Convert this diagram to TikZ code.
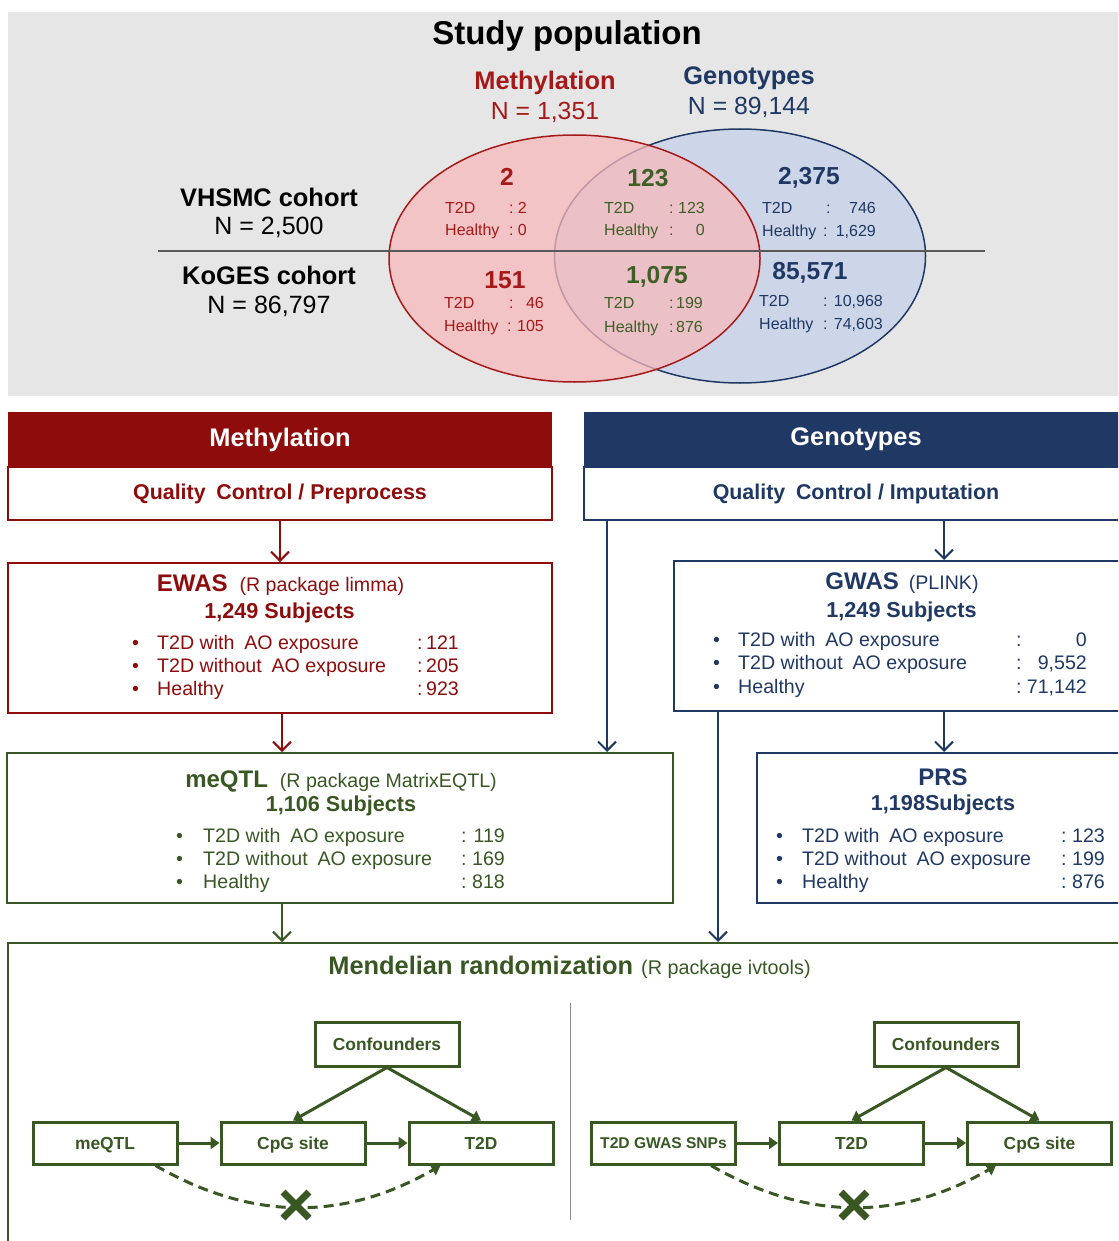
\documentclass[tikz,border=0pt]{standalone}
\usepackage{fontspec}
\setmainfont{Liberation Sans}
\usetikzlibrary{arrows.meta,positioning,calc}

\definecolor{mred}{RGB}{142,12,12}
\definecolor{vred}{RGB}{165,25,25}
\definecolor{mnavy}{RGB}{31,56,100}
\definecolor{mgreen}{RGB}{56,87,35}
\definecolor{vgreen}{RGB}{62,96,38}
\definecolor{bggray}{RGB}{231,230,230}
\definecolor{pinkfill}{RGB}{246,185,187}
\definecolor{bluefill}{RGB}{205,214,232}

\newcommand{\setfs}[1]{\fontsize{#1}{#1}\selectfont}

\tikzset{
  hdrbox/.style={text=white, font=\setfs{25.4}\bfseries, minimum width=544pt, minimum height=55pt, inner sep=0pt},
  qcbox/.style={draw, fill=white, line width=2pt, font=\setfs{21.4}\bfseries, minimum width=544pt, minimum height=53pt, inner sep=0pt},
  stagebox/.style={draw, line width=2pt, inner sep=0pt},
  flow/.style={line width=2pt, -{Straight Barb[length=9pt,width=18pt]}},
  vbig/.style={inner sep=0pt, font=\setfs{24.6}\bfseries},
  vsmall/.style={inner sep=0pt, font=\setfs{16}, text height=11.5pt, text depth=0pt},
  rowtxt/.style={inner sep=0pt, anchor=west, font=\setfs{19.6}, text height=14pt, text depth=0pt},
  subj/.style={inner sep=0pt, font=\setfs{21.6}\bfseries},
  dagbox/.style={draw=mgreen, line width=3pt, text=mgreen, font=\setfs{17.4}\bfseries, minimum width=144pt, minimum height=42pt, inner sep=0pt, text height=12.5pt, text depth=0pt},
  dagarrow/.style={draw=mgreen, line width=3pt, -{Triangle[length=9pt,width=12pt]}},
  nolink/.style={dagarrow, dash pattern=on 10pt off 6pt, bend right=30},
}

\begin{document}
\begin{tikzpicture}[x=1pt,y=-1pt]
    \useasboundingbox (0,0) rectangle (1118,1241);
    \clip (0,0) rectangle (1118,1241);

    % study population
    \fill[bggray] (8,12) rectangle (1122,396);
    \node[inner sep=0pt, font=\setfs{33}\bfseries] (title) at (567,36) {Study population};
    \fill[bluefill] (740,256) ellipse [x radius=185.5, y radius=127];
    \draw[mnavy, line width=1.5pt] (740,256) ellipse [x radius=185.5, y radius=127];
    \filldraw[fill=pinkfill, fill opacity=0.75, draw=vred, line width=1.5pt] (574.5,258.5) ellipse [x radius=185.5, y radius=123.5];
    \draw[black!65, line width=1.5pt] (158,251) -- (985,251);

    \node[inner sep=0pt, text=vred, font=\setfs{25.4}\bfseries] (setM) at (545,83) {Methylation};
    \node[inner sep=0pt, text=vred, font=\setfs{24.8}] (setMn) at (545,112) {N = 1,351};
    \node[inner sep=0pt, text=mnavy, font=\setfs{25.4}\bfseries] (setG) at (749,78) {Genotypes};
    \node[inner sep=0pt, text=mnavy, font=\setfs{24.8}] (setGn) at (749,107) {N = 89,144};

    \node[inner sep=0pt, font=\setfs{25.4}\bfseries] (vhs) at (269,197) {VHSMC cohort};
    \node[inner sep=0pt, font=\setfs{25}] (vhsn) at (269,227) {N = 2,500};
    \node[inner sep=0pt, font=\setfs{25.4}\bfseries] (kog) at (269,275) {KoGES cohort};
    \node[inner sep=0pt, font=\setfs{25}] (kogn) at (269,306) {N = 86,797};

    \node[vbig, text=vred] (na) at (507,177) {2};
    \node[vbig, text=vgreen] (nb) at (648,178) {123};
    \node[vbig, text=mnavy] (nc) at (809,178) {2,375};
    \node[vbig, text=vred] (nd) at (505,280) {151};
    \node[vbig, text=vgreen] (ne) at (657,277) {1,075};
    \node[vbig, text=mnavy] (nf) at (810,273) {85,571};

    \foreach \nm/\col/\xl/\xc/\xr/\y/\lab/\val in {
      a1/vred/445/509/527/208/T2D/2, a2/vred/445/509/527/230/Healthy/0,
      b1/vgreen/604/669/705/208/T2D/123, b2/vgreen/604/669/705/230/Healthy/0,
      c1/mnavy/762/826/876/208/T2D/746, c2/mnavy/762/823/876/231/Healthy/{1,629},
      d1/vred/444/509/544/303/T2D/46, d2/vred/444/507/544/326/Healthy/105,
      e1/vgreen/604/669/703/303/T2D/199, e2/vgreen/604/669/703/327/Healthy/876,
      f1/mnavy/759/823/883/301/T2D/{10,968}, f2/mnavy/759/823/883/324/Healthy/{74,603}}{
      \node[vsmall, anchor=west, text=\col] (\nm-lab) at (\xl,\y) {\lab};
      \node[vsmall, anchor=west, text=\col] (\nm-col) at (\xc,\y) {:};
      \node[vsmall, anchor=east, text=\col] (\nm-val) at (\xr,\y) {\val};
    }

    % two branches
    \node[hdrbox, fill=mred] (hdrM) at (280,439.5) {Methylation};
    \node[qcbox, draw=mred, text=mred] (qcM) at (280,493.5) {Quality\enspace Control / Preprocess};
    \node[hdrbox, fill=mnavy] (hdrG) at (856,439.5) {Genotypes};
    \node[qcbox, draw=mnavy, text=mnavy] (qcG) at (856,493.5) {Quality\enspace Control / Imputation};

    \node[stagebox, draw=mred, minimum width=544pt, minimum height=150pt] (ewas) at (280,638) {};
    \node[stagebox, draw=mnavy, minimum width=456pt, minimum height=150pt] (gwas) at (902,636) {};
    \node[stagebox, draw=mgreen, minimum width=666pt, minimum height=150pt] (meqtl) at (340,828) {};
    \node[stagebox, draw=mnavy, minimum width=373pt, minimum height=150pt] (prs) at (943.5,828) {};
    \node[stagebox, draw=mgreen, minimum width=1122pt, minimum height=310pt] (mr) at (569,1098) {};

    \node[inner sep=0pt, text=mred] (ewas-t) at (280.5,585) {{\setfs{24}\bfseries EWAS}\hspace{12pt}{\setfs{19.6}(R package limma)}};
    \node[subj, text=mred] (ewas-s) at (279.5,613) {1,249 Subjects};
    \node[inner sep=0pt, text=mnavy] (gwas-t) at (902,583) {{\setfs{24}\bfseries GWAS}\hspace{10pt}{\setfs{19.6}(PLINK)}};
    \node[subj, text=mnavy] (gwas-s) at (901.5,612) {1,249 Subjects};
    \node[inner sep=0pt, text=mgreen] (meqtl-t) at (341,781) {{\setfs{24}\bfseries meQTL}\hspace{12pt}{\setfs{19.6}(R package MatrixEQTL)}};
    \node[subj, text=mgreen] (meqtl-s) at (341,806) {1,106 Subjects};
    \node[inner sep=0pt, text=mnavy, font=\setfs{24}\bfseries] (prs-t) at (943,777) {PRS};
    \node[subj, text=mnavy] (prs-s) at (943,805) {1,198Subjects};

    \foreach \lab/\val [count=\i] in {T2D with\enspace AO exposure/121, T2D without\enspace AO exposure/205, Healthy/923}{
      \pgfmathsetmacro{\yy}{642+23*(\i-1)}
      \node[rowtxt, text=mred] (ewas-d\i) at (132,\yy) {\textbullet};
      \node[rowtxt, text=mred] (ewas-l\i) at (157,\yy) {\lab};
      \node[rowtxt, text=mred] (ewas-c\i) at (417,\yy) {:};
      \node[rowtxt, anchor=east, text=mred] (ewas-v\i) at (459,\yy) {\val};
    }
    \foreach \lab/\val [count=\i] in {T2D with\enspace AO exposure/0, T2D without\enspace AO exposure/{9,552}, Healthy/{71,142}}{
      \pgfmathsetmacro{\yy}{639+23.5*(\i-1)}
      \node[rowtxt, text=mnavy] (gwas-d\i) at (713,\yy) {\textbullet};
      \node[rowtxt, text=mnavy] (gwas-l\i) at (738,\yy) {\lab};
      \node[rowtxt, text=mnavy] (gwas-c\i) at (1016,\yy) {:};
      \node[rowtxt, anchor=east, text=mnavy] (gwas-v\i) at (1087,\yy) {\val};
    }
    \foreach \lab/\val [count=\i] in {T2D with\enspace AO exposure/119, T2D without\enspace AO exposure/169, Healthy/818}{
      \pgfmathsetmacro{\yy}{835+23*(\i-1)}
      \node[rowtxt, text=mgreen] (meqtl-d\i) at (176,\yy) {\textbullet};
      \node[rowtxt, text=mgreen] (meqtl-l\i) at (203,\yy) {\lab};
      \node[rowtxt, text=mgreen] (meqtl-c\i) at (461,\yy) {:};
      \node[rowtxt, anchor=east, text=mgreen] (meqtl-v\i) at (505,\yy) {\val};
    }
    \foreach \lab/\val [count=\i] in {T2D with\enspace AO exposure/123, T2D without\enspace AO exposure/199, Healthy/876}{
      \pgfmathsetmacro{\yy}{835+23*(\i-1)}
      \node[rowtxt, text=mnavy] (prs-d\i) at (776,\yy) {\textbullet};
      \node[rowtxt, text=mnavy] (prs-l\i) at (802,\yy) {\lab};
      \node[rowtxt, text=mnavy] (prs-c\i) at (1061,\yy) {:};
      \node[rowtxt, anchor=east, text=mnavy] (prs-v\i) at (1105,\yy) {\val};
    }

    % connectors
    \coordinate (tapL) at (282,0);
    \coordinate (tapM) at (607,0);
    \coordinate (tapR) at (718,0);
    \coordinate (tapG) at (944,0);
    \draw[flow, mred] (qcM) -- (ewas);
    \draw[flow, mred] (ewas.south -| tapL) -- (meqtl.north -| tapL);
    \draw[flow, mgreen] (meqtl.south -| tapL) -- (mr.north -| tapL);
    \draw[flow, mnavy] (qcG.south -| tapM) -- (meqtl.north -| tapM);
    \draw[flow, mnavy] (qcG.south -| tapG) -- (gwas.north -| tapG);
    \draw[flow, mnavy] (gwas.south -| tapG) -- (prs.north -| tapG);
    \draw[flow, mnavy] (gwas.south -| tapR) -- (mr.north -| tapR);

    % Mendelian randomization
    \node[inner sep=0pt, text=mgreen] (mr-t) at (569.5,967) {{\setfs{25.4}\bfseries Mendelian randomization}\hspace{8pt}{\setfs{19.8}(R package ivtools)}};
    \draw[black!45, line width=1pt] (570,1003) -- (570,1220);

    \node[dagbox, minimum height=44pt] (conL) at (387,1044) {Confounders};
    \node[dagbox] (meqL) at (105,1143) {meQTL};
    \node[dagbox, right=41pt of meqL] (cpgL) {CpG site};
    \node[dagbox, right=41pt of cpgL] (t2dL) {T2D};
    \draw[dagarrow] (meqL) -- (cpgL);
    \draw[dagarrow] (cpgL) -- (t2dL);
    \draw[dagarrow] (conL.south) -- (cpgL.north);
    \draw[dagarrow] (conL.south) -- (t2dL.north);
    \draw[nolink] ([xshift=-23pt]meqL.south east) to ([xshift=33pt]t2dL.south west);
    \coordinate (xL) at (296,1205);
    \draw[mgreen, line width=7pt] ($(xL)+(-13,-13)$) -- ($(xL)+(13,13)$);
    \draw[mgreen, line width=7pt] ($(xL)+(-13,13)$) -- ($(xL)+(13,-13)$);

    \node[dagbox, minimum height=44pt] (conR) at (946,1044) {Confounders};
    \node[dagbox, font=\setfs{15.6}\bfseries, text height=11.2pt] (snpR) at (663.5,1143) {T2D GWAS SNPs};
    \node[dagbox, right=41pt of snpR] (t2dR) {T2D};
    \node[dagbox, right=41pt of t2dR] (cpgR) {CpG site};
    \draw[dagarrow] (snpR) -- (t2dR);
    \draw[dagarrow] (t2dR) -- (cpgR);
    \draw[dagarrow] (conR.south) -- (t2dR.north);
    \draw[dagarrow] (conR.south) -- (cpgR.north);
    \draw[nolink] ([xshift=-26pt]snpR.south east) to ([xshift=30pt]cpgR.south west);
    \coordinate (xR) at (854,1205);
    \draw[mgreen, line width=7pt] ($(xR)+(-13,-13)$) -- ($(xR)+(13,13)$);
    \draw[mgreen, line width=7pt] ($(xR)+(-13,13)$) -- ($(xR)+(13,-13)$);
\end{tikzpicture}
\end{document}
